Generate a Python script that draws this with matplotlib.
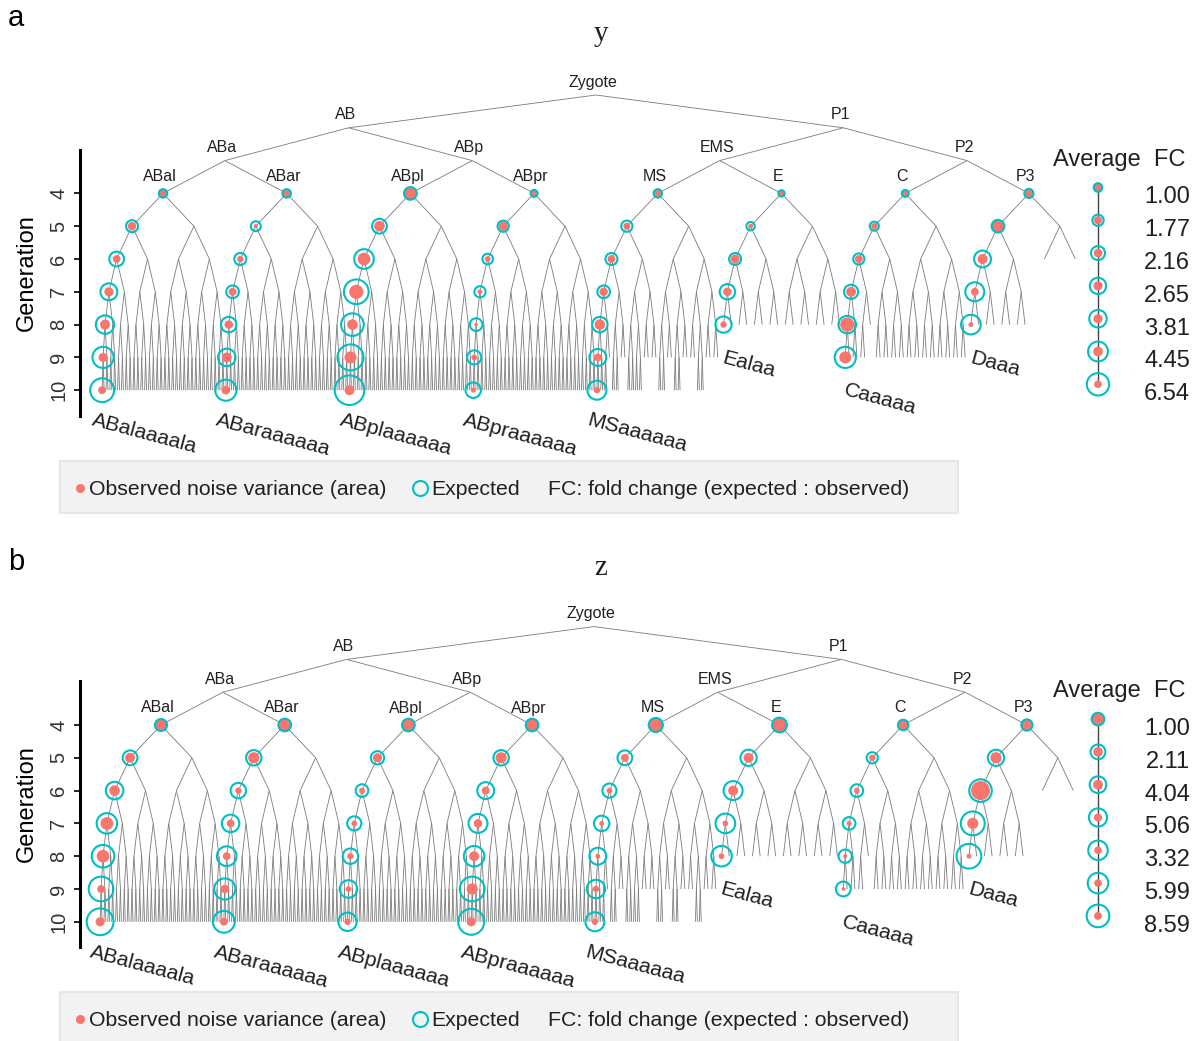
import matplotlib
matplotlib.use('Agg')
import matplotlib.pyplot as plt
from matplotlib.collections import LineCollection
from matplotlib.patches import Rectangle
from matplotlib.lines import Line2D
from matplotlib import transforms
import numpy as np

plt.rcParams['font.family'] = ['Liberation Sans', 'DejaVu Sans']

W, H, DPI = 1197, 1041, 100
OBS_COLOR = '#F8766D'
EXP_COLOR = '#00BFC4'
TREE_COLOR = '#7a7a7a'
TEXT_COLOR = '#231f20'

# ---------------- lineage structure ----------------
founders = ['ABal', 'ABar', 'ABpl', 'ABpr', 'MS', 'E', 'C', 'P3']
founder_parents = ['ABa', 'ABa', 'ABp', 'ABp', 'EMS', 'EMS', 'P2', 'P2']
upper_cells = ['ABa', 'ABp', 'EMS', 'P2', 'AB', 'P1', 'Zygote']
upper_parents = ['AB', 'AB', 'P1', 'P1', 'Zygote', 'Zygote', None]
upper_gens = [3, 3, 3, 3, 2, 2, 1]

# last generation reached above each of the 32 generation-9 slots of a founder
end_ABal = [10, 10, 10, 10, 10, 10, 10, 10, 10, 10, 10, 10, 10, 10, 10, 10,
            10, 10, 10, 10, 10, 10, 10, 10, 10, 10, 10, 10, 10, 10, 10, 10]
end_ABar = [10, 10, 10, 10, 10, 10, 10, 10, 10, 10, 10, 10, 10, 10, 10, 10,
            10, 10, 10, 10, 10, 10, 10, 10, 10, 10, 10, 10, 10, 10, 10, 10]
end_ABpl = [10, 10, 10, 10, 10, 10, 10, 10, 10, 10, 10, 10, 10, 10, 10, 10,
            10, 10, 10, 10, 10, 10, 10, 10, 10, 10, 10, 10, 10, 10, 10, 10]
end_ABpr = [10, 10, 10, 10, 10, 10, 10, 10, 10, 10, 10, 10, 10, 10, 10, 10,
            10, 10, 10, 10, 10, 10, 10, 10, 10, 10, 10, 10, 10, 10, 10, 10]
end_MS = [10, 10, 10, 9, 10, 10, 9, 9, 10, 10, 10, 10, 9, 9, 9, 9,
          10, 10, 9, 9, 10, 10, 9, 9, 9, 9, 10, 10, 9, 9, 9, 9]
end_E = [8, 8, 8, 8, 8, 8, 8, 8, 8, 8, 8, 8, 8, 8, 8, 8,
         8, 8, 8, 8, 8, 8, 8, 8, 8, 8, 8, 8, 8, 8, 8, 8]
end_C = [9, 9, 9, 9, 9, 9, 8, 8, 9, 9, 9, 9, 9, 9, 9, 9,
         9, 9, 9, 9, 9, 9, 9, 9, 9, 9, 9, 9, 9, 9, 9, 9]
end_P3 = [8, 8, 8, 8, 8, 8, 8, 8, 8, 8, 8, 8, 8, 8, 8, 8,
          6, 6, 6, 6, 6, 6, 6, 6, 6, 6, 6, 6, 6, 6, 6, 6]
end_gens = [end_ABal, end_ABar, end_ABpl, end_ABpr, end_MS, end_E, end_C, end_P3]

# traced sublineage below each founder (a/l/D = first daughter, p/r = second)
path_tails = ['aaaala', 'aaaaaa', 'aaaaaa', 'aaaaaa', 'aaaaaa', 'alaa', 'aaaaa', 'Daaa']
leaf_labels = ['ABalaaaala', 'ABaraaaaaa', 'ABplaaaaaa', 'ABpraaaaaa',
               'MSaaaaaa', 'Ealaa', 'Caaaaa', 'Daaa']

# noise variance along each traced sublineage (generation 4 onward)
obs_y = [
    [1.00, 1.00, 0.86, 1.16, 1.38, 1.16, 0.86],
    [1.00, 0.25, 0.56, 0.86, 1.00, 1.38, 1.00],
    [2.25, 1.56, 2.25, 2.81, 1.56, 2.03, 1.38],
    [0.68, 1.16, 0.46, 0.33, 0.18, 0.46, 0.33],
    [1.00, 0.68, 0.86, 1.00, 1.56, 0.86, 0.56],
    [0.56, 0.33, 1.16, 1.00, 0.56],
    [0.68, 0.56, 0.86, 1.38, 2.81, 2.03],
    [1.16, 2.03, 1.38, 0.86, 0.33],
]
exp_y = [
    [1.00, 2.03, 3.06, 4.00, 4.73, 6.25, 7.98],
    [1.00, 1.38, 2.03, 2.25, 3.33, 4.31, 6.25],
    [2.25, 3.06, 5.41, 8.56, 7.16, 9.46, 12.25],
    [0.68, 1.76, 1.56, 1.76, 2.25, 2.81, 3.33],
    [1.00, 1.76, 2.03, 2.25, 3.33, 4.00, 5.06],
    [0.56, 1.00, 2.03, 3.33, 3.71],
    [0.68, 1.16, 1.76, 2.81, 4.31, 6.25],
    [1.16, 2.25, 4.00, 5.06, 5.41],
]
obs_z = [
    [2.03, 1.38, 1.56, 2.25, 2.25, 0.86, 1.16],
    [2.25, 1.76, 0.56, 0.86, 0.86, 1.00, 0.86],
    [2.25, 1.16, 0.46, 0.46, 0.56, 0.46, 0.56],
    [2.25, 1.76, 0.86, 1.00, 1.38, 1.76, 1.16],
    [2.81, 0.86, 0.46, 0.33, 0.33, 0.56, 0.56],
    [3.06, 1.38, 1.38, 0.46, 0.46],
    [1.56, 0.56, 0.46, 0.33, 0.25, 0.18],
    [1.76, 1.76, 5.06, 1.76, 0.33],
]
exp_z = [
    [2.03, 3.06, 4.31, 5.88, 7.16, 8.56, 10.08],
    [2.25, 3.33, 3.33, 4.31, 5.41, 6.25, 6.63],
    [2.25, 2.48, 2.25, 2.81, 3.33, 4.31, 4.73],
    [2.25, 3.33, 4.00, 5.06, 5.88, 8.56, 9.46],
    [2.81, 3.06, 2.81, 3.33, 4.00, 4.73, 5.06],
    [3.06, 3.71, 5.06, 5.41, 5.88],
    [1.56, 1.76, 2.25, 2.25, 2.48, 3.06],
    [1.76, 3.71, 7.16, 7.98, 8.56],
]

generations = [4, 5, 6, 7, 8, 9, 10]
fc_y = [1.00, 1.77, 2.16, 2.65, 3.81, 4.45, 6.54]
fc_z = [1.00, 2.11, 4.04, 5.06, 3.32, 5.99, 8.59]

# marker area (pt^2) per unit of variance
AREA_SCALE = 37.0

# ---------------- layout ----------------
DX = 123.7   # px between generation-4 cells
DY = 32.8    # px between generations


def fig_x(px):
    return px / W


def fig_y(py):
    return 1 - py / H


def node_x(fi, g, i):
    return fi - 0.5 + (i + 0.5) / 2 ** (g - 4)


def reach(ends, g, i):
    if g == 10:
        return ends[i // 2]
    span = 2 ** (9 - g)
    return max(ends[i * span:(i + 1) * span])


fig = plt.figure(figsize=(W / DPI, H / DPI), dpi=DPI)

panels = [
    dict(obs=obs_y, exp=exp_y, fc=fc_y, title='y', tag='a', top=0, bottom=520,
         shift=0, tag_base=26, title_base=41, x0=163.0, y0=95.0),
    dict(obs=obs_z, exp=exp_z, fc=fc_z, title='z', tag='b', top=520, bottom=1041,
         shift=531, tag_base=570, title_base=575, x0=161.0, y0=626.6),
]

children = {}
for f, p in zip(founders, founder_parents):
    children.setdefault(p, []).append(f)
for c, p in zip(upper_cells, upper_parents):
    if p is not None:
        children.setdefault(p, []).append(c)

xpos = {f: float(i) for i, f in enumerate(founders)}
gpos = {f: 4 for f in founders}
for c, g in zip(upper_cells, upper_gens):
    xpos[c] = float(np.mean([xpos[k] for k in children[c]]))
    gpos[c] = g

for P in panels:
    shift = P['shift']
    x0, y0 = P['x0'], P['y0']

    def dx(px):
        return (px - x0) / DX

    def dg(py):
        return 1 + (py - y0) / DY

    ax = fig.add_axes([0, fig_y(P['bottom']), 1, (P['bottom'] - P['top']) / H])
    ax.set_xlim(dx(0), dx(W))
    ax.set_ylim(dg(P['bottom']), dg(P['top']))
    ax.patch.set_visible(False)

    # ---- tree branches ----
    segs = []
    for c, p in zip(upper_cells + founders, upper_parents + founder_parents):
        if p is not None:
            segs.append([(xpos[p], gpos[p]), (xpos[c], gpos[c])])
    for fi, ends in enumerate(end_gens):
        for g in range(4, 10):
            for i in range(2 ** (g - 4)):
                if reach(ends, g, i) < g:
                    continue
                for k in (2 * i, 2 * i + 1):
                    if reach(ends, g + 1, k) >= g + 1:
                        segs.append([(node_x(fi, g, i), g), (node_x(fi, g + 1, k), g + 1)])
    ax.add_collection(LineCollection(segs, colors=TREE_COLOR, linewidths=0.6, zorder=1))

    # ---- cell names on the upper tree ----
    for name in upper_cells + founders:
        lift = 12.5 if gpos[name] == 4 else 8.5
        tr = transforms.offset_copy(ax.transData, fig, x=-3, y=lift, units='dots')
        ax.text(xpos[name], gpos[name], name, transform=tr, ha='center', va='baseline',
                fontsize=11.5, color=TEXT_COLOR)

    # ---- traced sublineages ----
    gen_obs = {g: [] for g in generations}
    gen_exp = {g: [] for g in generations}
    for fi, tail in enumerate(path_tails):
        i, g = 0, 4
        xs, gs = [node_x(fi, 4, 0)], [4]
        for ch in tail:
            i = 2 * i + (1 if ch in 'prv' else 0)
            g += 1
            xs.append(node_x(fi, g, i))
            gs.append(g)
        ov = np.array(P['obs'][fi])
        ev = np.array(P['exp'][fi])
        for gg, o, e in zip(gs, ov, ev):
            gen_obs[gg].append(o)
            gen_exp[gg].append(e)
        ax.scatter(xs, gs, s=ov * AREA_SCALE, c=OBS_COLOR, edgecolors='none', zorder=3)
        ax.scatter(xs, gs, s=ev * AREA_SCALE, facecolors='none', edgecolors=EXP_COLOR,
                   linewidths=1.5, zorder=4)
        if gs[-1] == 10:
            ox, oy = -11, -35
        else:
            ox, oy = -2, -38
        tr = transforms.offset_copy(ax.transData, fig, x=ox, y=oy, units='dots')
        ax.text(xs[-1], gs[-1], leaf_labels[fi], transform=tr, rotation=-15,
                rotation_mode='anchor', ha='left', va='baseline', fontsize=15.3,
                color=TEXT_COLOR)

    # ---- average fold-change key ----
    key_x = dx(1098)
    key_g = [g - 0.18 for g in generations]
    ax.plot([key_x, key_x], [key_g[0], key_g[-1]], color='#444444', lw=1.0, zorder=2)
    mo = np.array([np.mean(gen_obs[g]) for g in generations])
    me = np.array([np.mean(gen_exp[g]) for g in generations])
    ax.scatter([key_x] * 7, key_g, s=mo * AREA_SCALE, c=OBS_COLOR, edgecolors='none', zorder=3)
    ax.scatter([key_x] * 7, key_g, s=me * AREA_SCALE, facecolors='none', edgecolors=EXP_COLOR,
               linewidths=1.5, zorder=4)
    num_tr = transforms.offset_copy(ax.transData, fig, x=0, y=-10, units='dots')
    for g, v in zip(generations, P['fc']):
        ax.text(dx(1190), g, f'{v:.2f}', transform=num_tr, ha='right', va='baseline',
                fontsize=17, color=TEXT_COLOR)
    fig.text(fig_x(1053), fig_y(166 + shift), 'Average  FC', ha='left', va='baseline',
             fontsize=17, color=TEXT_COLOR)

    # ---- generation axis ----
    for side in ('top', 'right', 'bottom'):
        ax.spines[side].set_visible(False)
    ax.spines['left'].set_position(('data', dx(80)))
    ax.spines['left'].set_bounds(dg(150 + shift), dg(416 + shift))
    ax.spines['left'].set_linewidth(2.2)
    ax.set_xticks([])
    ax.set_yticks(generations)
    ax.set_yticklabels([str(g) for g in generations])
    ax.tick_params(axis='y', direction='out', length=4.5, width=1.2, pad=4,
                   labelsize=14.5, labelcolor='#333333')
    for lbl in ax.get_yticklabels():
        lbl.set_rotation(90)
        lbl.set_va('center')
    fig.text(fig_x(27), fig_y(273 + shift), 'Generation', rotation=90, ha='center',
             va='center', fontsize=17, color='black')

    # ---- panel tag and title ----
    fig.text(fig_x(8), fig_y(P['tag_base']), P['tag'], ha='left', va='baseline',
             fontsize=21, color='black')
    fig.text(fig_x(601), fig_y(P['title_base']), P['title'], ha='center', va='baseline',
             fontsize=21, family=['Liberation Serif', 'DejaVu Serif'], color=TEXT_COLOR)

    # ---- bottom key ----
    fig.add_artist(Rectangle((fig_x(60), fig_y(513 + shift)), (958 - 60) / W, 52 / H,
                             transform=fig.transFigure, facecolor='#F2F2F2',
                             edgecolor='#E6E6E6', lw=1.5, zorder=0))
    fig.add_artist(Line2D([fig_x(80)], [fig_y(488 + shift)], marker='o', ms=6.5,
                          mfc=OBS_COLOR, mec='none', transform=fig.transFigure))
    fig.add_artist(Line2D([fig_x(420)], [fig_y(488 + shift)], marker='o', ms=10.8,
                          mfc='none', mec=EXP_COLOR, mew=1.5, transform=fig.transFigure))
    for px, s in [(89, 'Observed noise variance (area)'), (431, 'Expected'),
                  (548, 'FC: fold change (expected : observed)')]:
        fig.text(fig_x(px), fig_y(495 + shift), s, ha='left', va='baseline', fontsize=15.3,
                 color=TEXT_COLOR)

fig.savefig('out.png', dpi=DPI)
